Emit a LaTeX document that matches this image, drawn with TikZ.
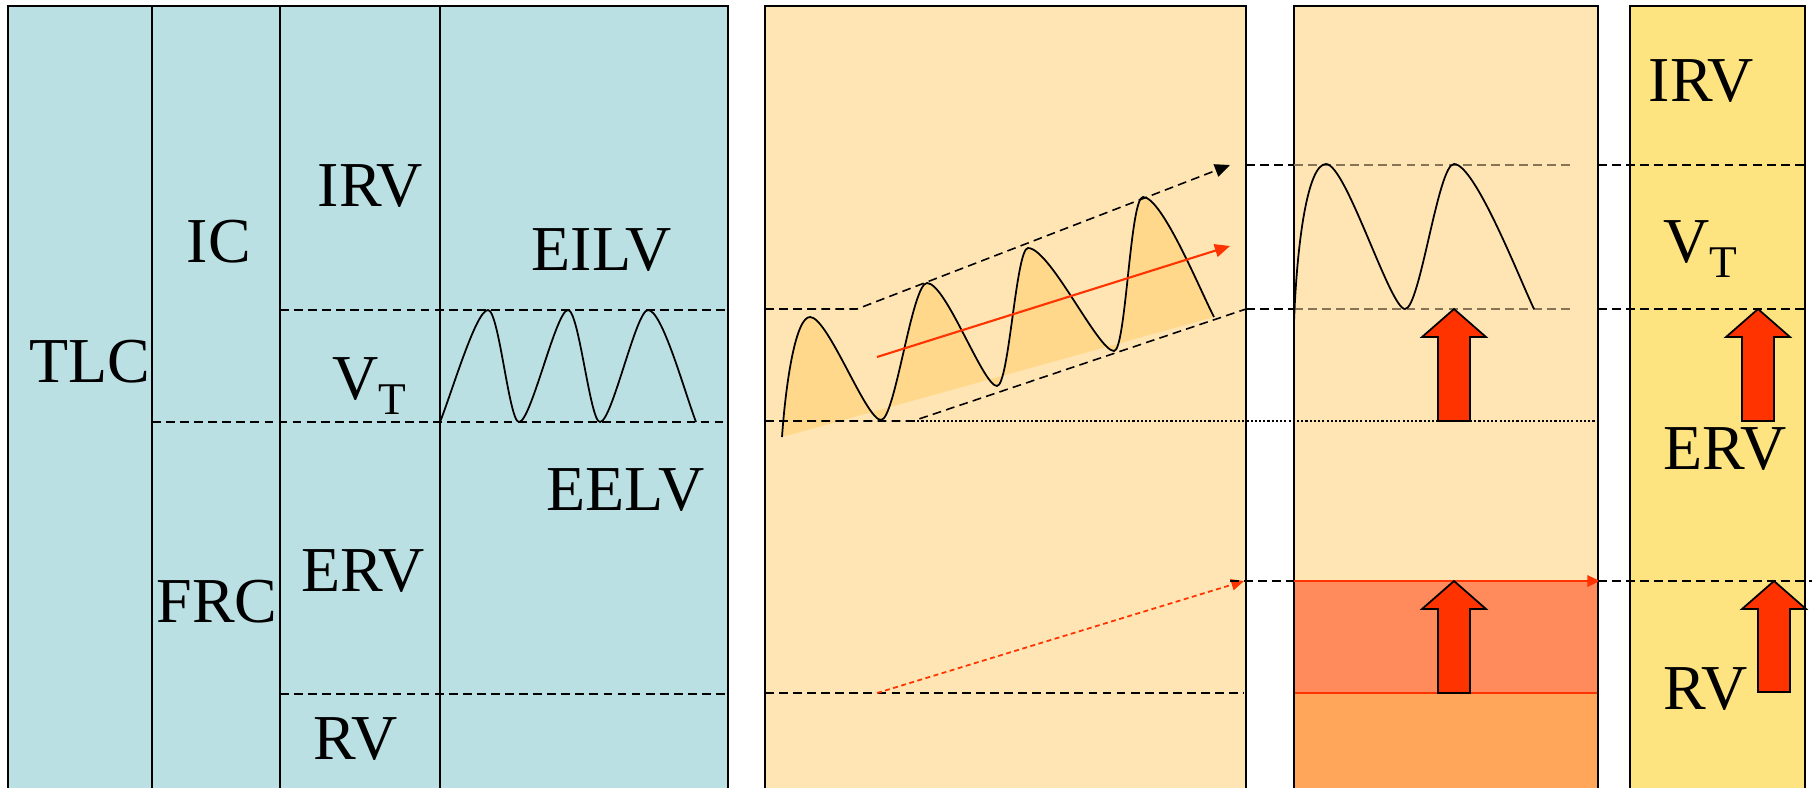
\documentclass[tikz,border=0pt]{standalone}
\usepackage{fontspec}
\setmainfont{Liberation Serif}
\usetikzlibrary{arrows.meta}

\definecolor{azulpanel}{RGB}{187,224,227}
\definecolor{naranjaclaro}{RGB}{255,229,180}
\definecolor{amarillopanel}{RGB}{253,228,128}
\definecolor{rellenoonda}{RGB}{255,216,140}
\definecolor{rojovivo}{RGB}{255,51,0}
\definecolor{rojosuave}{RGB}{255,138,92}
\definecolor{naranjafuerte}{RGB}{255,166,90}
\definecolor{marronguion}{RGB}{135,115,85}

\tikzset{
  etiqueta/.style={font=\fontsize{18.2}{20}\selectfont, inner sep=0pt, anchor=base west},
  panel/.style={draw=black, line width=0.6pt},
  guion/.style={line width=0.45pt, dash pattern=on 2.5pt off 1.5pt},
  punteado/.style={line width=0.45pt, dash pattern=on 0.6pt off 0.6pt},
  onda/.style={line width=0.5pt},
  flechagorda/.style={fill=rojovivo, draw=black, line width=0.5pt}
}

\newcommand{\vsubt}{V\raisebox{-4.3pt}{\fontsize{12.9}{14}\selectfont T}}

\begin{document}
\begin{tikzpicture}[x=0.01cm, y=-0.01cm]
\useasboundingbox (0,0) rectangle (1812,787);

% Panel 1: volumenes y capacidades
\filldraw[panel, fill=azulpanel] (8,6) rectangle (728,800);
\draw[panel] (152,6) -- (152,800);
\draw[panel] (280,6) -- (280,800);
\draw[panel] (440,6) -- (440,800);
\draw[guion] (280,310) -- (728,310);
\draw[guion] (152,422) -- (728,422);
\draw[guion] (280,694) -- (728,694);

% Respiracion tranquila
\draw[onda] (440,422) .. controls (452,392) and (476,310) .. (488,310)
  .. controls (499,310) and (509,422) .. (519,422)
  .. controls (531,422) and (556,310) .. (568,310)
  .. controls (579,310) and (590,422) .. (600,422)
  .. controls (612,422) and (636,310) .. (648,310)
  .. controls (662,310) and (684,390) .. (696,422);

\node[etiqueta] (tlc) at (29,382) {TLC};
\node[etiqueta] (ic) at (186,262) {IC};
\node[etiqueta] (frc) at (156,622) {FRC};
\node[etiqueta] (irvA) at (317,206) {IRV};
\node[etiqueta] (vtA) at (332,399) {\vsubt};
\node[etiqueta] (ervA) at (301,591) {ERV};
\node[etiqueta] (rvA) at (313,759) {RV};
\node[etiqueta] (eilv) at (531,270) {EILV};
\node[etiqueta] (eelv) at (546,510) {EELV};

% Panel 2: hiperinsuflacion dinamica
\filldraw[panel, fill=naranjaclaro] (765,6) rectangle (1246,800);
\path[fill=rellenoonda] (782,437) .. controls (786,380) and (796,317) .. (810,317)
  .. controls (828,317) and (866,420) .. (881,420)
  .. controls (895,420) and (912,283) .. (927,283)
  .. controls (946,283) and (983,386) .. (997,386)
  .. controls (1009,386) and (1016,248) .. (1028,248)
  .. controls (1050,248) and (1098,351) .. (1114,351)
  .. controls (1126,351) and (1130,197) .. (1143,197)
  .. controls (1162,197) and (1200,290) .. (1214,317) -- cycle;
\draw[onda] (782,437) .. controls (786,380) and (796,317) .. (810,317)
  .. controls (828,317) and (866,420) .. (881,420)
  .. controls (895,420) and (912,283) .. (927,283)
  .. controls (946,283) and (983,386) .. (997,386)
  .. controls (1009,386) and (1016,248) .. (1028,248)
  .. controls (1050,248) and (1098,351) .. (1114,351)
  .. controls (1126,351) and (1130,197) .. (1143,197)
  .. controls (1162,197) and (1200,290) .. (1214,317);
\draw[guion, -{Triangle[length=4.3pt, width=3.7pt]}] (765,309) -- (857,309) -- (1230,165);
\draw[guion] (765,421) -- (913,421) -- (1246,309);
\draw[guion] (765,693) -- (1244,693);
\draw[rojovivo, line width=0.6pt, -{Triangle[length=4.3pt, width=3.7pt]}] (877,357) -- (1230,246);
\draw[rojovivo, line width=0.5pt, dash pattern=on 1.4pt off 1pt, -{Triangle[length=3.6pt, width=3.2pt]}] (877,693) -- (1244,581);

% Guiones entre paneles
\draw[guion] (1246,165) -- (1294,165);
\draw[guion] (1246,309) -- (1294,309);
\draw[guion] (1230,581) -- (1294,581);

% Panel 3: aumento del volumen al final de la espiracion
\filldraw[panel, fill=naranjaclaro] (1294,6) rectangle (1598,800);
\fill[naranjafuerte] (1294,693) rectangle (1598,800);
\filldraw[fill=rojosuave, draw=rojovivo, line width=0.5pt] (1294,581) rectangle (1598,693);
\draw[panel] (1294,6) -- (1294,800);
\draw[panel] (1598,6) -- (1598,800);
\draw[guion, marronguion] (1294,165) -- (1575,165);
\draw[guion, marronguion] (1294,309) -- (1575,309);
\draw[onda] (1294,322) .. controls (1297,240) and (1308,164) .. (1326,164)
  .. controls (1346,164) and (1390,309) .. (1405,309)
  .. controls (1420,309) and (1438,164) .. (1454,164)
  .. controls (1475,164) and (1520,280) .. (1534,309);
\draw[punteado] (913,421) -- (1596,421);
\draw[rojovivo, line width=0.7pt, -{Triangle[length=3.6pt, width=3.2pt]}] (1294,581) -- (1600,581);

% Panel 4: nuevos volumenes
\filldraw[panel, fill=amarillopanel] (1630,6) rectangle (1805,800);
\draw[guion] (1598,165) -- (1805,165);
\draw[guion] (1598,309) -- (1805,309);
\draw[guion] (1598,581) -- (1812,581);
\node[etiqueta] (irvB) at (1648,101) {IRV};
\node[etiqueta] (vtB) at (1663,262) {\vsubt};
\node[etiqueta] (ervB) at (1663,469) {ERV};
\node[etiqueta] (rvB) at (1663,709) {RV};

% Flechas gordas
\foreach \cx/\ty/\by in {1454/309/421, 1454/581/693, 1758/309/421, 1774/581/692}
  \filldraw[flechagorda] (\cx,\ty) -- ({\cx+32},{\ty+28}) -- ({\cx+16},{\ty+28})
    -- ({\cx+16},\by) -- ({\cx-16},\by) -- ({\cx-16},{\ty+28})
    -- ({\cx-32},{\ty+28}) -- cycle;
\end{tikzpicture}
\end{document}
